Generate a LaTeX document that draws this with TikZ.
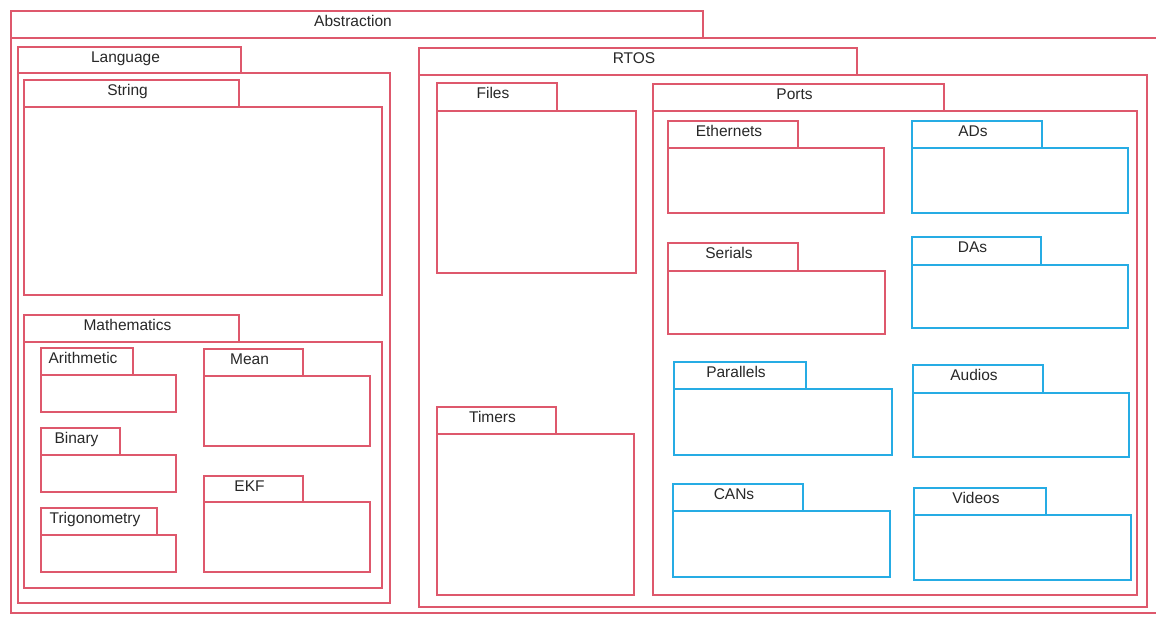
\documentclass[tikz,border=0pt]{standalone}
\usepackage{fontspec}
\setmainfont{Liberation Sans}
\usepackage{tikz}
\usetikzlibrary{positioning}

\definecolor{pkgred}{RGB}{222,88,108}
\definecolor{pkgblue}{RGB}{38,172,228}
\definecolor{pkgtext}{RGB}{40,40,40}

\tikzset{
  redpkg/.style={draw=pkgred,line width=1.3pt},
  bluepkg/.style={draw=pkgblue,line width=1.3pt},
  pkglabel/.style={anchor=north,inner sep=0pt,xshift=-4pt,yshift=-4.5pt,
    text=pkgtext,font=\fontsize{15.5}{18}\selectfont}
}

% package = tab on top of a body; #3..#6 tab corners, #7,#8 body corner
\newcommand{\umlpackage}[9]{%
  \draw[#2] (#3,#4) rectangle (#5,#6);
  \draw[#2] (#3,#6) rectangle (#7,#8);
  \node[pkglabel] (#1) at ({(#3+#5)/2},#4) {#9};
}

\begin{document}
\begin{tikzpicture}[x=1pt,y=-1pt]
\useasboundingbox (0,0) rectangle (1156,616);
\fill[white] (0,0) rectangle (1156,616);

\umlpackage{abstraction}{redpkg}{11}{11}{703}{38}{1162}{613}{Abstraction}

%language side
\umlpackage{language}{redpkg}{18}{47}{241}{73}{390}{603}{Language}
\umlpackage{string}{redpkg}{24}{80}{239}{107}{382}{295}{String}
\umlpackage{maths}{redpkg}{24}{315}{239}{342}{382}{588}{Mathematics}
\umlpackage{arith}{redpkg}{41}{348}{133}{375}{176}{412}{Arithmetic}
\umlpackage{binary}{redpkg}{41}{428}{120}{455}{176}{492}{Binary}
\umlpackage{trigo}{redpkg}{41}{508}{157}{535}{176}{572}{Trigonometry}
\umlpackage{mean}{redpkg}{204}{349}{303}{376}{370}{446}{Mean}
\umlpackage{ekf}{redpkg}{204}{476}{303}{502}{370}{572}{EKF}

%rtos side
\umlpackage{rtos}{redpkg}{419}{48}{857}{75}{1147}{607}{RTOS}
\umlpackage{files}{redpkg}{437}{83}{557}{111}{636}{273}{Files}
\umlpackage{timers}{redpkg}{437}{407}{556}{434}{634}{595}{Timers}
\umlpackage{ports}{redpkg}{653}{84}{944}{111}{1137}{595}{Ports}
\umlpackage{ether}{redpkg}{668}{121}{798}{148}{884}{213}{Ethernets}
\umlpackage{serial}{redpkg}{668}{243}{798}{271}{885}{334}{Serials}
\umlpackage{parallel}{bluepkg}{674}{362}{806}{389}{892}{455}{Parallels}
\umlpackage{can}{bluepkg}{673}{484}{803}{511}{890}{577}{CANs}
\umlpackage{ad}{bluepkg}{912}{121}{1042}{148}{1128}{213}{ADs}
\umlpackage{da}{bluepkg}{912}{237}{1041}{265}{1128}{328}{DAs}
\umlpackage{audio}{bluepkg}{913}{365}{1043}{393}{1129}{457}{Audios}
\umlpackage{video}{bluepkg}{914}{488}{1046}{515}{1131}{580}{Videos}

\end{tikzpicture}
\end{document}
